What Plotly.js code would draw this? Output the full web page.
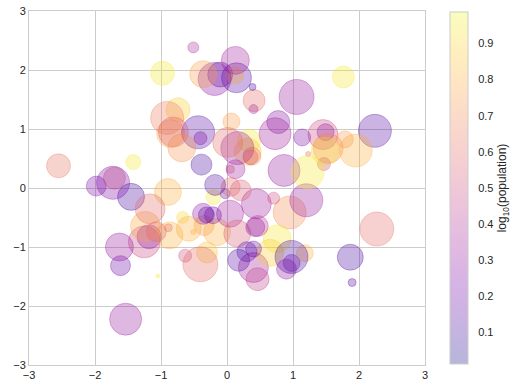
<!DOCTYPE html>
<html>
<head>
<meta charset="utf-8">
<script src="https://cdn.plot.ly/plotly-3.0.1.min.js"></script>
<style>html,body{margin:0;padding:0;background:#fff;}#chart{width:521px;height:390px;}</style>
</head>
<body>
<div id="chart"></div>
<script>
// x and y positions of the points
const xVals = [1.764,0.400,0.979,2.241,1.868,-0.977,0.950,-0.151,-0.103,0.411,
  0.144,1.454,0.761,0.122,0.444,0.334,1.494,-0.205,0.313,-0.854,
  -2.553,0.654,0.864,-0.742,2.270,-1.454,0.046,-0.187,1.533,1.469,
  0.155,0.378,-0.888,-1.981,-0.348,0.156,1.230,1.202,-0.387,-0.302,
  -1.049,-1.420,-1.706,1.951,-0.510,-0.438,-1.253,0.777,-1.614,-0.213,
  -0.895,0.387,-0.511,-1.181,-0.028,0.428,0.067,0.302,-0.634,-0.363,
  -0.672,-0.360,-0.813,-1.726,0.177,-0.402,-1.630,0.463,-0.907,0.052,
  0.729,0.129,1.139,-1.235,0.402,-0.685,-0.871,-0.579,-0.312,0.056,
  -1.165,0.901,0.466,-1.536,1.488,1.896,1.179,-0.180,-1.071,1.054,
  -0.403,1.222,0.208,0.977,0.356,0.707,0.011,1.786,0.127,0.402];
const yVals = [1.883,-1.348,-1.270,0.969,-1.173,1.944,-0.414,-0.747,1.923,1.481,
  1.868,0.906,-0.861,1.910,-0.268,0.802,0.947,-0.155,0.614,0.922,
  0.376,-1.099,0.298,1.326,-0.695,-0.150,-0.435,1.849,0.672,0.407,
  -0.770,0.539,-0.674,0.032,-0.636,0.676,0.577,-0.208,0.396,-1.093,
  -1.491,0.439,0.167,0.635,2.383,0.944,-0.913,1.117,-1.316,-0.462,
  -0.068,1.713,-0.745,-0.826,-0.098,-0.663,1.127,-1.080,-1.147,-0.438,
  -0.498,1.930,0.949,0.088,-1.225,0.844,-1.000,-1.545,1.188,0.317,
  0.921,0.319,0.857,-0.651,-1.034,0.682,-0.803,-0.690,-0.456,0.017,
  -0.354,-1.375,-0.644,-2.223,0.625,-1.602,-1.104,0.052,-0.740,1.543,
  -1.293,0.267,-0.039,-1.168,0.523,-0.172,0.772,0.824,2.163,1.337];
// colour value of each point (log10 population)
const colorVals = [0.95,0.35,0.20,0.15,0.12,0.95,0.70,0.80,0.15,0.60,
  0.15,0.50,0.95,0.78,0.35,0.95,0.30,0.95,0.85,0.78,
  0.62,0.88,0.32,0.88,0.60,0.12,0.35,0.28,0.70,0.50,
  0.55,0.65,0.55,0.25,0.75,0.32,0.60,0.32,0.12,0.85,
  0.95,0.95,0.55,0.80,0.38,0.15,0.48,0.28,0.20,0.22,
  0.80,0.10,0.80,0.30,0.20,0.25,0.75,0.15,0.50,0.30,
  0.90,0.75,0.55,0.25,0.15,0.25,0.32,0.45,0.65,0.55,
  0.35,0.35,0.25,0.78,0.20,0.72,0.80,0.80,0.15,0.60,
  0.60,0.30,0.42,0.32,0.90,0.15,0.80,0.15,0.60,0.32,
  0.60,0.95,0.55,0.12,0.55,0.50,0.60,0.75,0.35,0.35];
// marker diameters (px)
const sizeVals = [22,30,17,33,26,24,33,27,25,22,
  30,30,28,17,30,23,17,15,27,28,
  24,27,32,24,34,27,27,33,30,13,
  27,18,8,20,20,33,5,33,21,21,
  4,15,22,33,11,33,32,23,20,17,
  27,7,5,24,10,19,17,20,13,21,
  12,27,30,33,22,13,28,23,33,8,
  32,19,17,30,16,28,27,25,16,19,
  30,20,21,32,28,8,17,21,20,35,
  35,33,21,33,15,12,30,17,28,9];
const cbTicks = [0.1,0.2,0.3,0.4,0.5,0.6,0.7,0.8,0.9];
const cbTitle = 'log<sub>10</sub>(population)';

const plasma = [[0,[13,8,135]],[0.111,[70,3,159]],[0.222,[114,1,168]],[0.333,[156,23,158]],
  [0.444,[189,55,134]],[0.555,[216,87,107]],[0.666,[237,121,83]],[0.777,[251,159,58]],
  [0.888,[253,202,38]],[1,[240,249,33]]];
const scale = plasma.map(p => [p[0], 'rgba(' + p[1].join(',') + ',0.3)']);
const cmin = 0.013, cmax = 0.987;

const font = {family: 'Liberation Sans, Arial, sans-serif', size: 11, color: '#262626'};
const trace = {
  type: 'scatter', mode: 'markers', x: xVals, y: yVals,
  marker: {
    size: sizeVals, color: colorVals, colorscale: scale, cmin: cmin, cmax: cmax,
    opacity: 1,
    line: {color: colorVals, colorscale: scale, cmin: cmin, cmax: cmax, width: 1},
    showscale: true,
    colorbar: {
      x: 1.063, xanchor: 'left', xref: 'paper', y: 0.5, yanchor: 'middle',
      xpad: 0, ypad: 0,
      thickness: 18, thicknessmode: 'pixels', len: 352, lenmode: 'pixels',
      outlinecolor: '#cccccc', outlinewidth: 1, tickvals: cbTicks,
      ticks: 'outside', ticklen: 8, tickcolor: 'rgba(0,0,0,0)',
      tickfont: font,
      title: {text: cbTitle, side: 'right', font: {family: font.family, size: 12, color: '#262626'}}
    }
  },
  hoverinfo: 'x+y'
};
const axis = {
  range: [-3, 3], dtick: 1, tick0: 0, showgrid: true, gridcolor: '#cccccc', gridwidth: 1,
  zeroline: false, showline: true, linecolor: '#cccccc', linewidth: 1, mirror: true,
  ticks: '', tickfont: font
};
const layout = {
  width: 521, height: 390,
  margin: {l: 29, r: 96, t: 11, b: 25, pad: 0, autoexpand: false},
  paper_bgcolor: '#ffffff', plot_bgcolor: '#ffffff',
  xaxis: Object.assign({}, axis),
  yaxis: Object.assign({}, axis),
  showlegend: false,
  font: font
};
Plotly.newPlot('chart', [trace], layout, {staticPlot: true, displayModeBar: false});
</script>
</body>
</html>
